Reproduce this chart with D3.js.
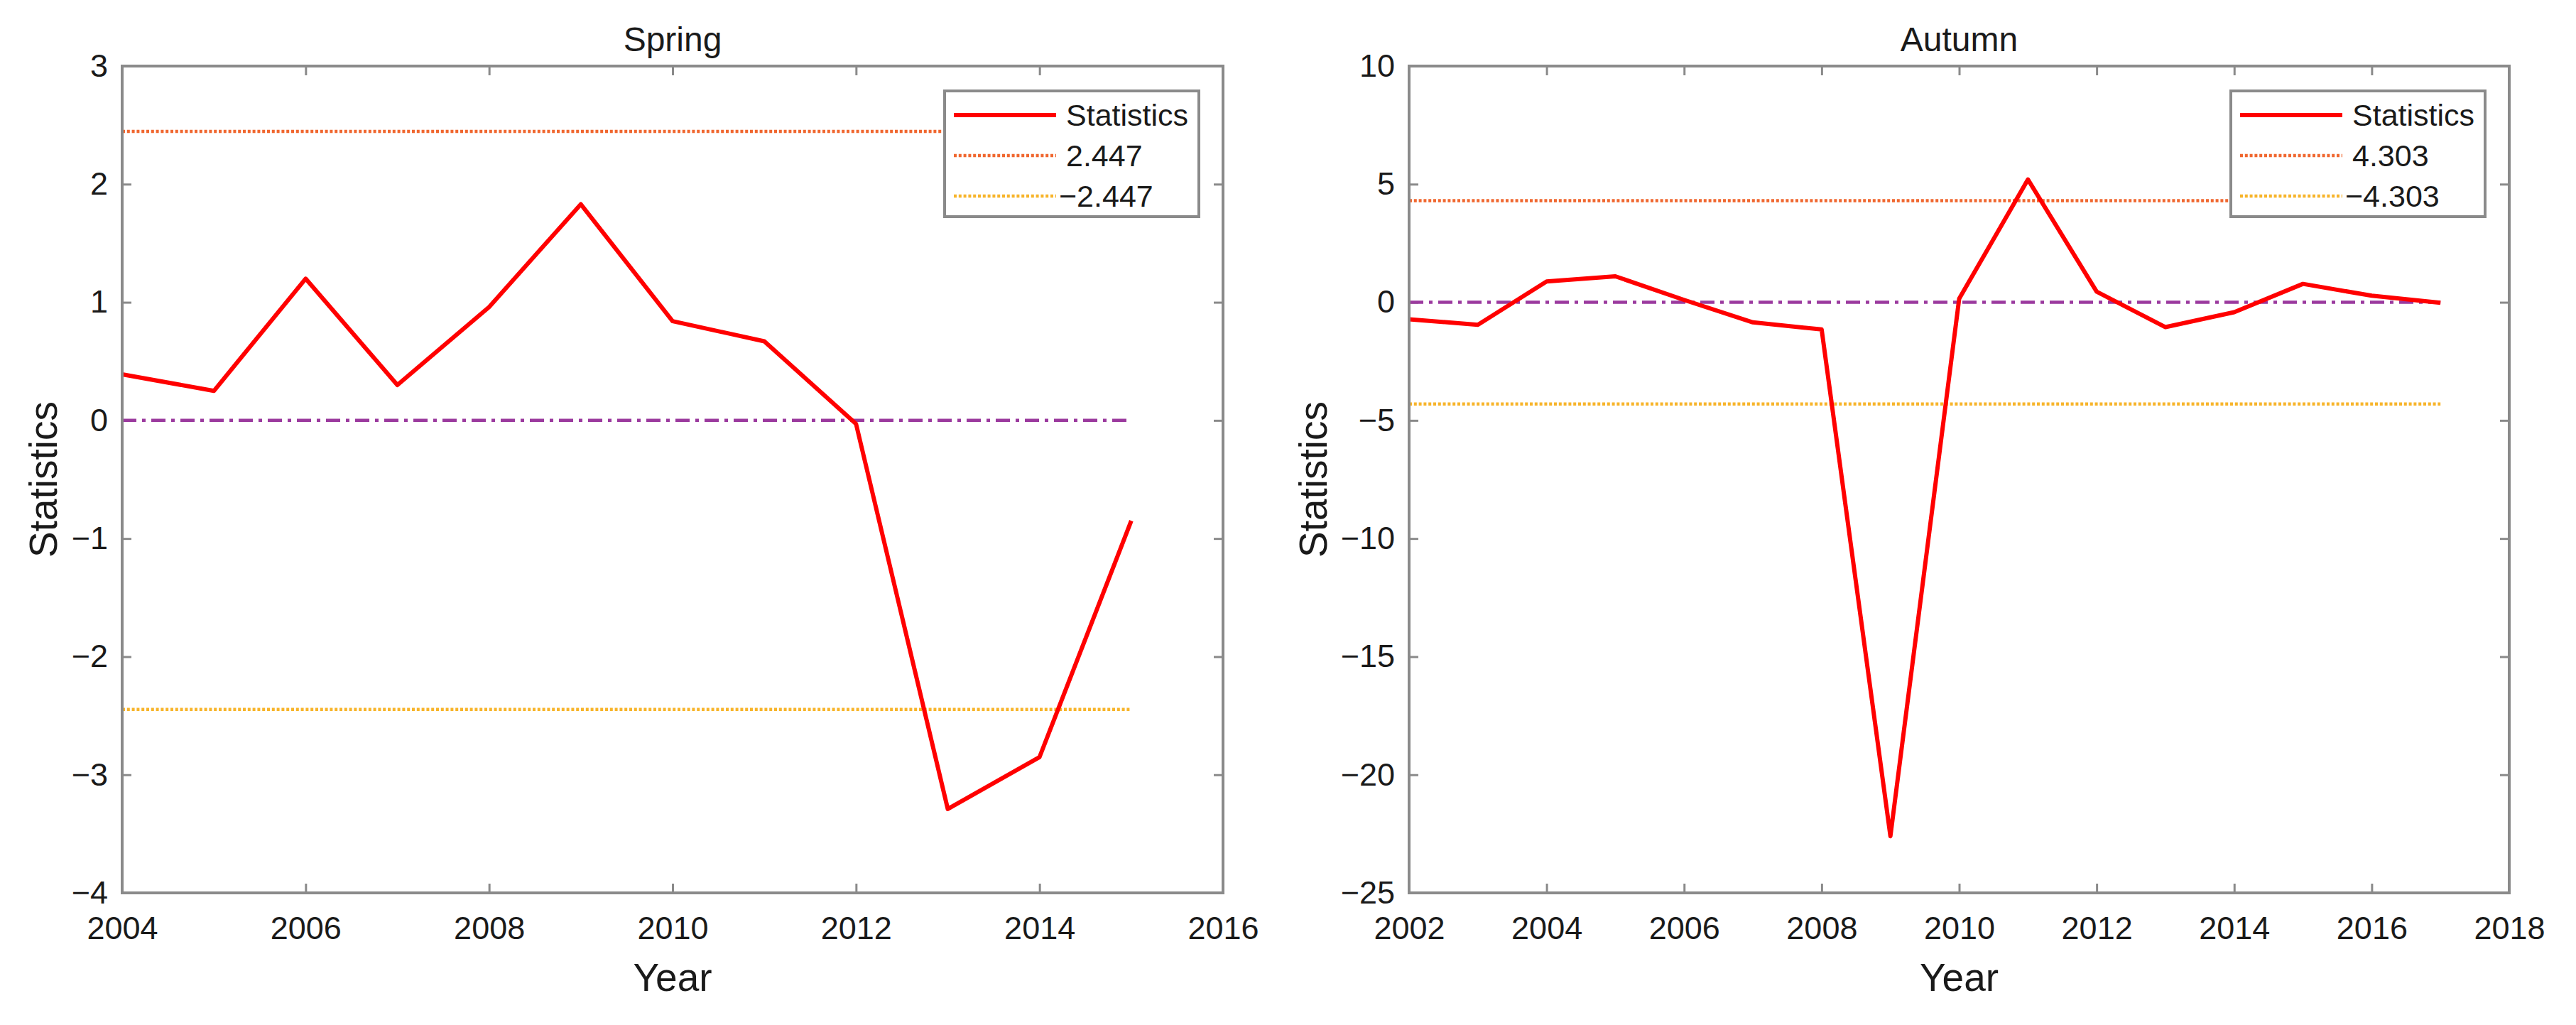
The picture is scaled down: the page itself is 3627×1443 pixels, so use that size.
<!DOCTYPE html>
<html>
<head>
<meta charset="utf-8">
<script src="https://cdn.jsdelivr.net/npm/d3@7"></script>
<style>
  body { margin: 0; background: #fff; }
  text { font-family: "Liberation Sans", Arial, Helvetica, sans-serif; fill: #1a1a1a; }
</style>
</head>
<body>
<svg id="canvas"></svg>
<script>
// data
const springYears = [2004, 2005, 2006, 2007, 2008, 2009, 2010, 2011, 2012, 2013, 2014, 2015]
const springValues = [0.39, 0.25, 1.2, 0.3, 0.96, 1.83, 0.84, 0.67, -0.03, -3.29, -2.85, -0.85]
const springCritical = 2.447
const springXTicks = [2004, 2006, 2008, 2010, 2012, 2014, 2016]
const springYTicks = [-4, -3, -2, -1, 0, 1, 2, 3]

const autumnYears = [2002, 2003, 2004, 2005, 2006, 2007, 2008, 2009, 2010, 2011, 2012, 2013, 2014, 2015, 2016, 2017]
const autumnValues = [-0.72, -0.95, 0.88, 1.1, 0.1, -0.85, -1.15, -22.6, 0.15, 5.2, 0.45, -1.05, -0.42, 0.78, 0.28, -0.02]
const autumnCritical = 4.303
const autumnXTicks = [2002, 2004, 2006, 2008, 2010, 2012, 2014, 2016, 2018]
const autumnYTicks = [-25, -20, -15, -10, -5, 0, 5, 10]

const width = 3627
const height = 1443
const plotTop = 93
const plotBottom = 1257

const frameColor = '#8a8a8a'
const upperColor = '#f0672f'
const lowerColor = '#f7b42a'
const zeroColor = '#9b3a9e'

let canvas = d3.select('#canvas')
canvas.attr('width', width).attr('height', height)

let fmt = d3.format('')

let drawPanel = (p) => {
    let g = canvas.append('g')

    let xScale = d3.scaleLinear()
        .domain([p.xTicks[0], p.xTicks[p.xTicks.length - 1]])
        .range([p.left, p.right])
    let yScale = d3.scaleLinear()
        .domain([p.yTicks[0], p.yTicks[p.yTicks.length - 1]])
        .range([plotBottom, plotTop])

    // axes with inside ticks
    let xAxis = d3.axisBottom(xScale).tickValues(p.xTicks).tickFormat(d3.format('d'))
        .tickSizeInner(-13).tickSizeOuter(0).tickPadding(33)
    let yAxis = d3.axisLeft(yScale).tickValues(p.yTicks).tickFormat(fmt)
        .tickSizeInner(-13).tickSizeOuter(0).tickPadding(20)
    let xTop = d3.axisTop(xScale).tickValues(p.xTicks).tickFormat('')
        .tickSizeInner(-13).tickSizeOuter(0)
    let yRight = d3.axisRight(yScale).tickValues(p.yTicks).tickFormat('')
        .tickSizeInner(-13).tickSizeOuter(0)

    let axes = [
        [xAxis, `translate(0, ${plotBottom})`],
        [yAxis, `translate(${p.left}, 0)`],
        [xTop, `translate(0, ${plotTop})`],
        [yRight, `translate(${p.right}, 0)`]
    ]
    axes.forEach(([ax, tr]) => {
        let a = g.append('g').attr('transform', tr).call(ax)
        a.select('.domain').remove()
        a.selectAll('line').attr('stroke', frameColor).attr('stroke-width', 3)
        a.selectAll('text').attr('font-size', 45).attr('fill', '#1a1a1a')
            .attr('font-family', '"Liberation Sans", Arial, sans-serif')
    })

    let x0 = xScale(p.years[0])
    let x1 = xScale(p.years[p.years.length - 1])

    // reference lines
    g.append('line')
        .attr('x1', x0).attr('x2', x1)
        .attr('y1', yScale(p.critical)).attr('y2', yScale(p.critical))
        .attr('stroke', upperColor).attr('stroke-width', 4.5)
        .attr('stroke-dasharray', '4 2.8')
    g.append('line')
        .attr('x1', x0).attr('x2', x1)
        .attr('y1', yScale(-p.critical)).attr('y2', yScale(-p.critical))
        .attr('stroke', lowerColor).attr('stroke-width', 4.5)
        .attr('stroke-dasharray', '4 2.8')
    g.append('line')
        .attr('x1', x0).attr('x2', x1)
        .attr('y1', yScale(0)).attr('y2', yScale(0))
        .attr('stroke', zeroColor).attr('stroke-width', 4.5)
        .attr('stroke-dasharray', '20 8 5 8')

    let line = d3.line()
        .x((d, i) => xScale(p.years[i]))
        .y((d) => yScale(d))
    g.append('path')
        .datum(p.values)
        .attr('d', line)
        .attr('fill', 'none')
        .attr('stroke', '#ff0000')
        .attr('stroke-width', 6)
        .attr('stroke-linejoin', 'round')

    // frame
    g.append('rect')
        .attr('x', p.left).attr('y', plotTop)
        .attr('width', p.right - p.left).attr('height', plotBottom - plotTop)
        .attr('fill', 'none').attr('stroke', frameColor).attr('stroke-width', 4)

    // legend
    let lx = p.right - 34 - 358
    let ly = plotTop + 35
    let lg = g.append('g').attr('transform', `translate(${lx}, ${ly})`)
    lg.append('rect')
        .attr('width', 358).attr('height', 177)
        .attr('fill', '#fff').attr('stroke', frameColor).attr('stroke-width', 4)
    let items = [
        { label: 'Statistics', color: '#ff0000', w: 6, dash: null },
        { label: fmt(p.critical), color: upperColor, w: 4.5, dash: '4 2.8' },
        { label: fmt(-p.critical), color: lowerColor, w: 4.5, dash: '4 2.8' }
    ]
    items.forEach((it, i) => {
        let cy = 34 + i * 57
        lg.append('line')
            .attr('x1', 13).attr('x2', 157)
            .attr('y1', cy).attr('y2', cy)
            .attr('stroke', it.color).attr('stroke-width', it.w)
            .attr('stroke-dasharray', it.dash)
        lg.append('text')
            .attr('x', i == 2 ? 161 : 171).attr('y', cy + 15)
            .attr('font-size', 43)
            .text(it.label)
    })

    // title and axis labels
    let cx = (p.left + p.right) / 2
    g.append('text')
        .attr('x', cx).attr('y', 72)
        .attr('text-anchor', 'middle').attr('font-size', 48)
        .text(p.title)
    g.append('text')
        .attr('x', cx).attr('y', 1395)
        .attr('text-anchor', 'middle').attr('font-size', 55)
        .text('Year')
    g.append('text')
        .attr('transform', `translate(${p.yLabelX}, ${(plotTop + plotBottom) / 2}) rotate(-90)`)
        .attr('text-anchor', 'middle').attr('font-size', 55)
        .text('Statistics')
}

drawPanel({
    title: 'Spring', left: 172, right: 1722, yLabelX: 80,
    years: springYears, values: springValues, critical: springCritical,
    xTicks: springXTicks, yTicks: springYTicks
})
drawPanel({
    title: 'Autumn', left: 1984, right: 3533, yLabelX: 1868,
    years: autumnYears, values: autumnValues, critical: autumnCritical,
    xTicks: autumnXTicks, yTicks: autumnYTicks
})
</script>
</body>
</html>
